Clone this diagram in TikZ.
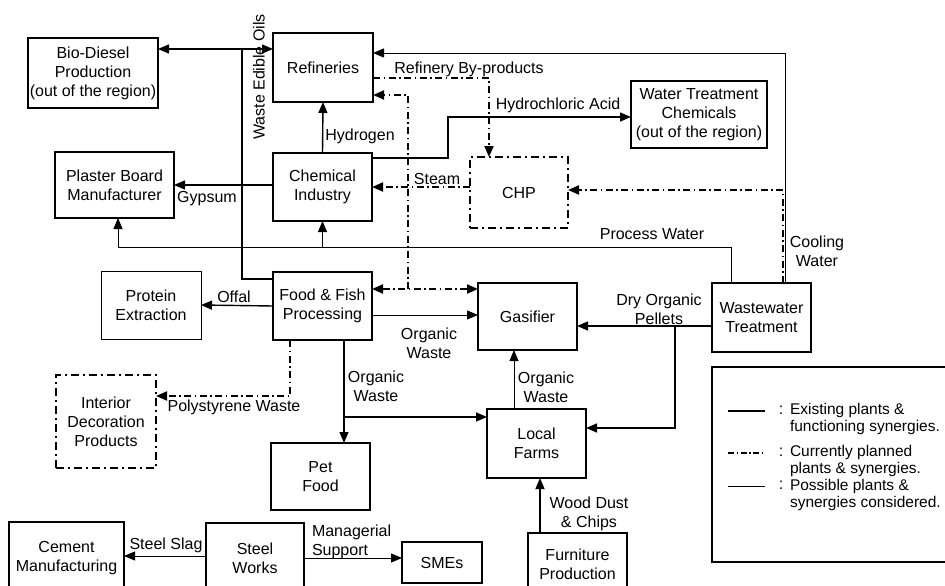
\documentclass[tikz,border=0pt]{standalone}
\usepackage{fontspec}
\setmainfont{Liberation Sans}
\usetikzlibrary{arrows.meta}
\begin{document}
\begin{tikzpicture}[x=1pt,y=-1pt,
  every node/.style={font=\fontsize{16}{19}\selectfont, align=center, inner sep=0pt, outer sep=0pt},
  unit/.style={draw, line width=1.6pt},
  punit/.style={draw, line width=0.8pt},
  planunit/.style={draw, line width=2.4pt, dash pattern=on 8pt off 4pt on 2pt off 4pt},
  exist/.style={line width=1.4pt},
  poss/.style={line width=0.8pt},
  plan/.style={line width=2pt, dash pattern=on 7pt off 3.5pt on 1.5pt off 3.5pt},
  tip/.style={-{Triangle[length=11pt,width=9pt]}},
  twotip/.style={{Triangle[length=11pt,width=9pt]}-{Triangle[length=11pt,width=9pt]}},
  keytext/.style={anchor=west, align=left, font=\fontsize{15.5}{17.5}\selectfont}
]
\useasboundingbox (0,0) rectangle (945,586);

% ---- plants ----
\node[unit, minimum width=130pt, minimum height=70pt] (bio) at (93,73) {Bio-Diesel\\Production\\(out of the region)};
\node[unit, minimum width=100pt, minimum height=69pt] (ref) at (323,67.5) {Refineries};
\node[unit, minimum width=119pt, minimum height=66pt] (plaster) at (114.5,185) {Plaster Board\\Manufacturer};
\node[unit, minimum width=99pt, minimum height=68pt] (chem) at (322.5,187) {Chemical\\Industry};
\node[unit, minimum width=136pt, minimum height=67pt] (wtc) at (699,114.5) {Water Treatment\\Chemicals\\(out of the region)};
\node[planunit, minimum width=98pt, minimum height=71pt] (chp) at (519,192.5) {CHP};
\node[punit, minimum width=100pt, minimum height=68pt] (prot) at (151,305) {Protein\\Extraction};
\node[unit, minimum width=99pt, minimum height=68pt] (food) at (322.5,306) {Food \& Fish\\Processing};
\node[unit, minimum width=99pt, minimum height=67pt] (gas) at (527.5,316.5) {Gasifier};
\node[unit, minimum width=99pt, minimum height=69pt] (wwt) at (761.5,317.5) {Wastewater\\Treatment};
\node[planunit, minimum width=100pt, minimum height=93pt] (deco) at (106,421.5) {Interior\\Decoration\\Products};
\node[unit, minimum width=99pt, minimum height=67pt] (pet) at (320.5,476.5) {Pet\\Food};
\node[unit, minimum width=99pt, minimum height=69pt] (farms) at (536.5,443.5) {Local\\Farms};
\node[unit, minimum width=115pt, minimum height=72pt] (cement) at (66.5,558) {Cement\\Manufacturing};
\node[unit, minimum width=98pt, minimum height=71pt] (steel) at (255,558.5) {Steel\\Works};
\node[unit, minimum width=80pt, minimum height=41pt] (smes) at (442,562.5) {SMEs};
\node[unit, minimum width=99pt, minimum height=62pt] (furn) at (577.5,564) {Furniture\\Production};

% ---- bend points ----
\coordinate (weo) at (242,49);
\coordinate (hca) at (448,117);
\coordinate (wr) at (785,53);
\coordinate (rb) at (489,78);
\coordinate (s1) at (408,95);
\coordinate (s2) at (408,289);
\coordinate (pw) at (731,247);
\coordinate (pwp) at (118,247);
\coordinate (cw) at (783,190);
\coordinate (fg) at (420,315);
\coordinate (dp) at (675,326);
\coordinate (dp2) at (675,428);
\coordinate (lg) at (514,380);
\coordinate (fp) at (344,417);
\coordinate (ps) at (290,396);
\coordinate (ss) at (165,556);
\coordinate (ms) at (350,558);
\coordinate (wd) at (540,500);

% ---- existing synergies ----
\draw[exist] ([yshift=-7pt]food.north west) -| (weo);
\draw[exist,tip] (weo) -- (bio.east |- weo);
\draw[exist,tip] (weo) -- (ref.west |- weo);
\draw[exist,tip] (chem.west |- plaster.east) -- (plaster.east);
\draw[exist,tip] (chem.north) -- (ref.south);
\draw[exist,tip] ([yshift=-5pt]chem.north east) -| (hca) -- (wtc.west |- hca);
\draw[exist,tip] (food.west) -- (prot.east);
\draw[exist,tip] (wwt.west |- dp) -- (gas.east |- dp);
\draw[exist,tip] (dp) -- (dp2) -- (farms.east |- dp2);
\draw[exist,tip] (food.south -| fp) -- (pet.north -| fp);
\draw[exist,tip] (fp) -- (farms.west |- fp);
\draw[exist,tip] (furn.north -| wd) -- (farms.south -| wd);

% ---- possible synergies ----
\draw[poss,tip] (wwt.north -| wr) -- (wr) -- (ref.east |- wr);
\draw[poss,tip] (wwt.north -| pw) -- (pw) -- (pwp) -- (plaster.south -| pwp);
\draw[poss,tip] (chem.south |- pw) -- (chem.south);
\draw[poss,tip] (food.east |- fg) -- (gas.west |- fg);
\draw[poss,tip] (farms.north -| lg) -- (gas.south -| lg);
\draw[poss,tip] (steel.west |- ss) -- (cement.east |- ss);
\draw[poss,tip] (steel.east |- ms) -- (smes.west |- ms);

% ---- planned synergies ----
\draw[plan,tip] (ref.east |- rb) -| (chp.north -| rb);
\draw[plan,tip] (chp.west |- chem.east) -- (chem.east);
\draw[plan,tip] (s2) -- (s1) -- (ref.east |- s1);
\draw[plan,twotip] (food.east |- s2) -- (gas.west |- s2);
\draw[plan,tip] (wwt.north -| cw) -- (cw) -- (chp.east |- cw);
\draw[plan,tip] (food.south -| ps) -- (ps) -- (deco.east |- ps);

% ---- flow labels ----
\node[rotate=90] (l1) at (259,77) {Waste Edible Oils};
\node (l2) at (207,199) {Gypsum};
\node (l3) at (360,136) {Hydrogen};
\node (l4) at (558,105) {Hydrochloric Acid};
\node (l5) at (469,69) {Refinery By-products};
\node (l6) at (437,179) {Steam};
\node (l7) at (652,234) {Process Water};
\node (l8) at (817,251) {Cooling\\Water};
\node (l9) at (234,297) {Offal};
\node (l10) at (429,343) {Organic\\Waste};
\node (l11) at (659,309) {Dry Organic\\Pellets};
\node (l12) at (546,387) {Organic\\Waste};
\node (l13) at (376,386) {Organic\\Waste};
\node (l14) at (234,407) {Polystyrene Waste};
\node (l15) at (166,545) {Steel Slag};
\node[anchor=west, align=left] (l16) at (312,542) {Managerial\\Support};
\node (l17) at (589,514) {Wood Dust\\\& Chips};

% ---- legend ----
\draw[line width=1.4pt] (712,367) rectangle (960,562);
\coordinate (k1a) at (728,411); \coordinate (k1b) at (765,411);
\coordinate (k2a) at (728,453); \coordinate (k2b) at (765,453);
\coordinate (k3a) at (728,486); \coordinate (k3b) at (765,486);
\draw[exist] (k1a) -- (k1b);
\draw[line width=1.4pt, dash pattern=on 6pt off 2.5pt on 1.5pt off 2.5pt] (k2a) -- (k2b);
\draw[poss] (k3a) -- (k3b);
\node (c1) at (781,410) {:};
\node (c2) at (781,452) {:};
\node (c3) at (781,485) {:};
\node[keytext] (t1) at (790,419) {Existing plants \&\\functioning synergies.};
\node[keytext] (t2) at (790,461) {Currently planned\\plants \& synergies.};
\node[keytext] (t3) at (790,495) {Possible plants \&\\synergies considered.};
\end{tikzpicture}
\end{document}
